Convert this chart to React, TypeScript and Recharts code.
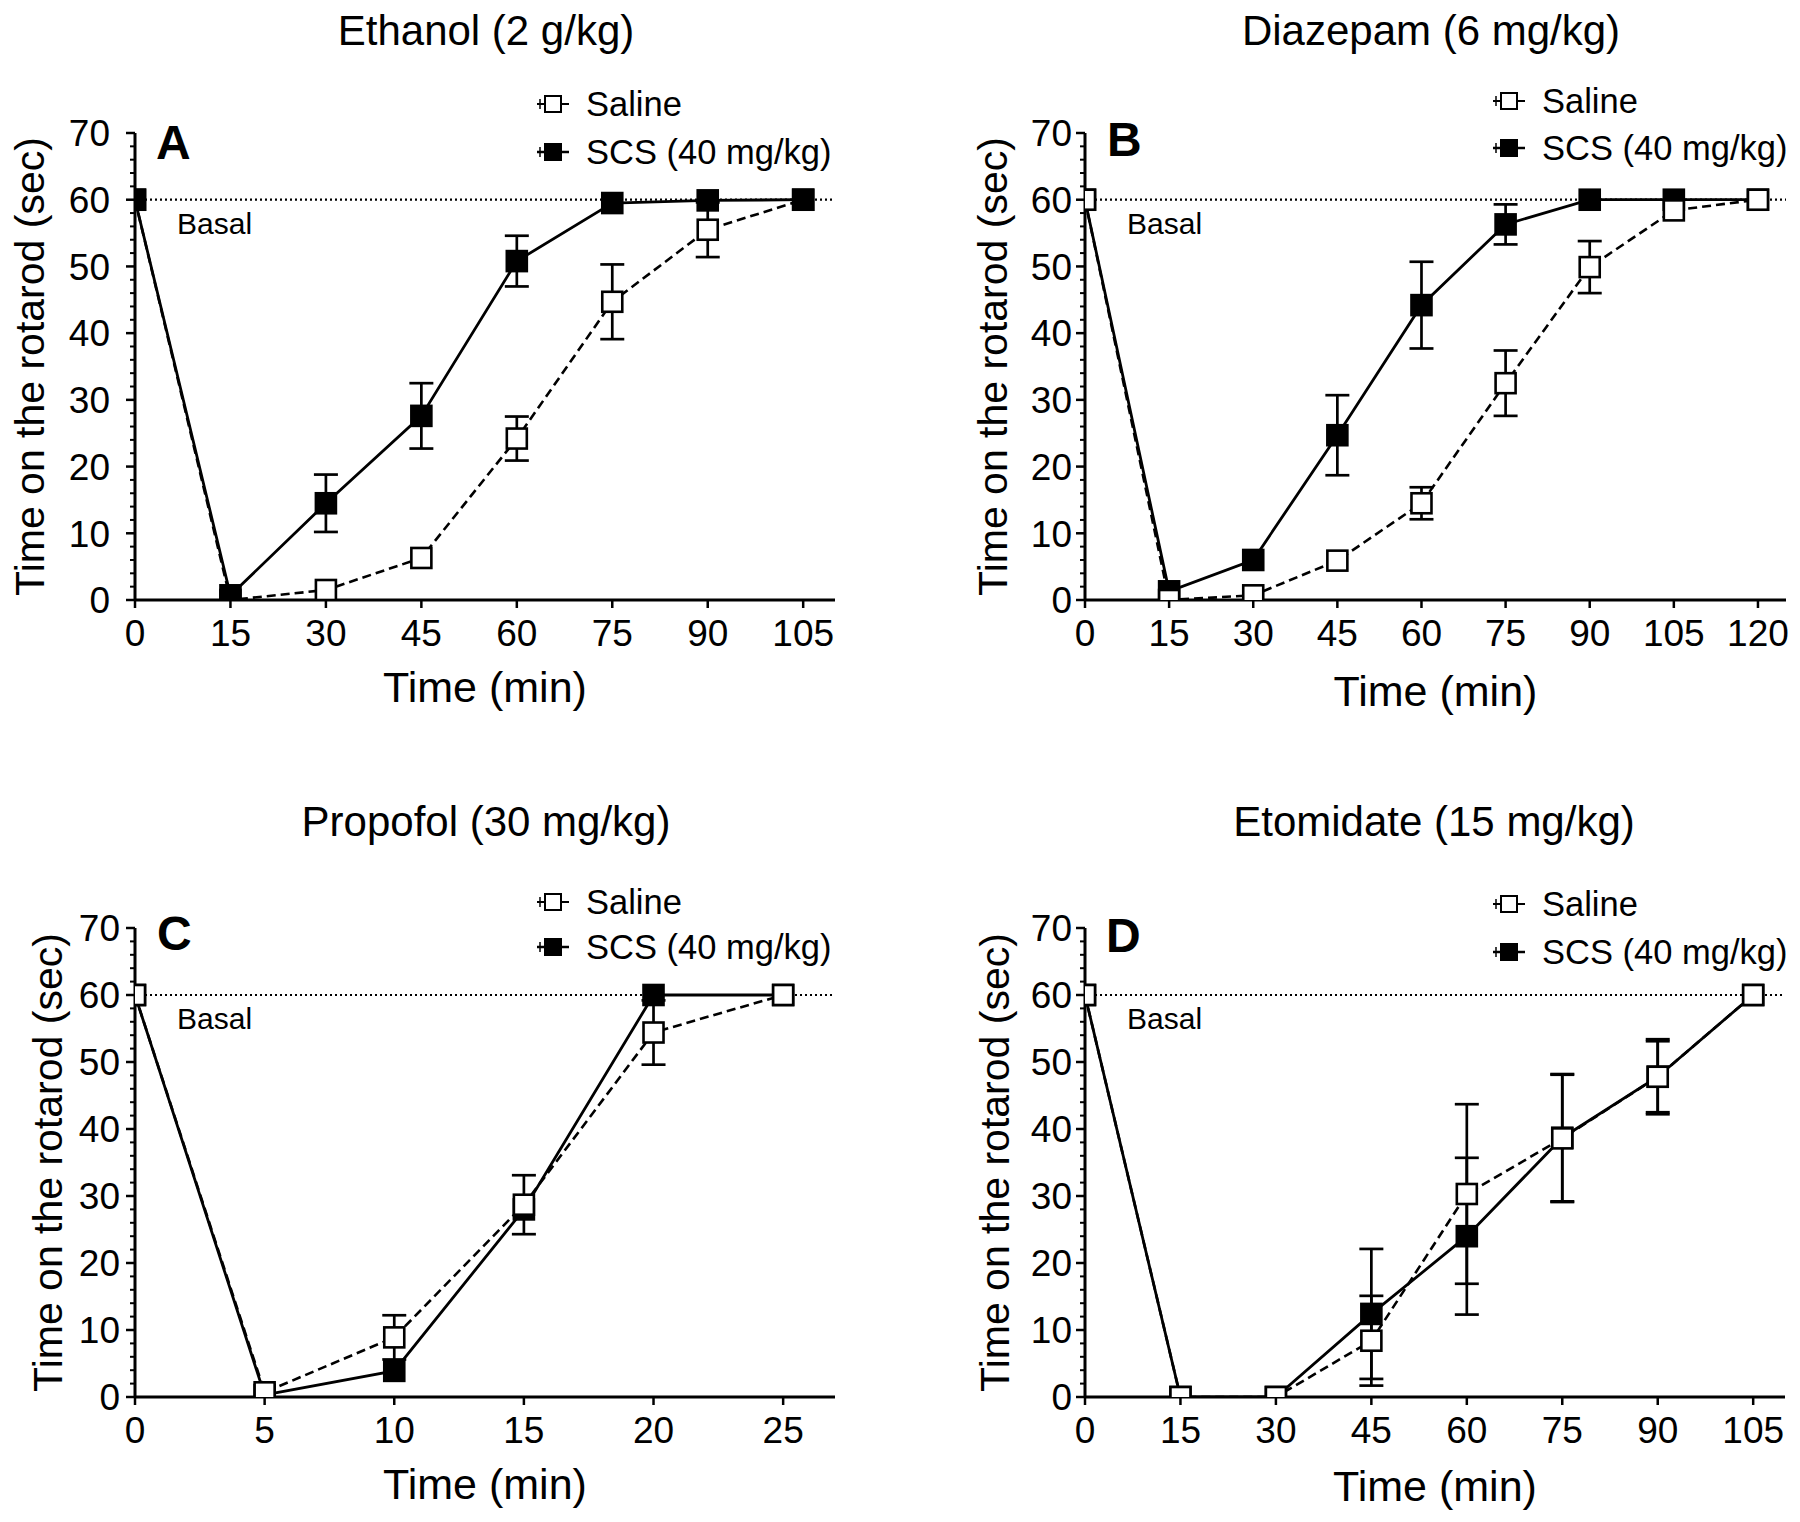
import React from "react";
import { ComposedChart, Line, XAxis, YAxis, ReferenceLine, ErrorBar } from "recharts";

const FONT = '"Liberation Sans", Arial, Helvetica, sans-serif';

// A – ethanol
const ethanolTime = [0, 15, 30, 45, 60, 75, 90, 105];
const ethanolSaline = [60, 0, 1.5, 6.3, 24.2, 44.7, 55.5, 60];
const ethanolSalineSem = [null, null, null, null, 3.3, 5.6, 4.1, null];
const ethanolScs = [60, 0.7, 14.5, 27.6, 50.8, 59.5, 59.9, 60];
const ethanolScsSem = [null, null, 4.3, 4.9, 3.8, null, null, null];

// B – diazepam
const diazepamTime = [0, 15, 30, 45, 60, 75, 90, 105, 120];
const diazepamSaline = [60, 0, 0.7, 5.9, 14.5, 32.5, 49.9, 58.4, 60];
const diazepamSalineSem = [null, null, null, null, 2.4, 4.9, 3.9, null, null];
const diazepamScs = [60, 1.3, 6.0, 24.7, 44.2, 56.3, 60, 60, 60];
const diazepamScsSem = [null, null, null, 6.0, 6.5, 3.0, null, null, null];

// C – propofol
const propofolTime = [0, 5, 10, 15, 20, 25];
const propofolSaline = [60, 0.7, 8.9, 28.7, 54.4, 60];
const propofolSalineSem = [null, null, 3.3, 4.4, 4.8, null];
const propofolScs = [60, 0.3, 3.9, 28.0, 60, 60];
const propofolScsSem = [null, null, null, null, null, null];

// D – etomidate
const etomidateTime = [0, 15, 30, 45, 60, 75, 90, 105];
const etomidateSaline = [60, 0, 0, 8.4, 30.3, 38.6, 47.8, 60];
const etomidateSalineSem = [null, null, null, 6.7, 13.4, 9.5, 5.6, null];
const etomidateScs = [60, 0, 0, 12.4, 24.0, 38.7, 47.8, 60];
const etomidateScsSem = [null, null, null, 9.7, 11.7, 9.5, 5.3, null];

const yTicks = [
  0, 2, 4, 6, 8, 10, 12, 14, 16, 18, 20, 22, 24, 26, 28, 30, 32, 34, 36, 38, 40, 42, 44, 46, 48, 50, 52,
  54, 56, 58, 60, 62, 64, 66, 68, 70,
];
const legendLabels = ["Saline", "SCS (40 mg/kg)"];
const yTitle = "Time on the rotarod (sec)";
const xTitle = "Time (min)";

const buildRows = (time: number[], saline: number[], salineSem: (number | null)[], scs: number[], scsSem: (number | null)[]) =>
  time.map((t, i) => ({ t, saline: saline[i], salineSem: salineSem[i], scs: scs[i], scsSem: scsSem[i] }));

const panels = [
  {
    key: "A",
    title: "Ethanol (2 g/kg)",
    rows: buildRows(ethanolTime, ethanolSaline, ethanolSalineSem, ethanolScs, ethanolScsSem),
    xTicks: ethanolTime,
    xMax: 110,
    ox: 0,
    oy: 0,
    margin: { top: 133, right: 65, left: 0, bottom: 51 },
    scsOnTop: true,
    labelGap: 16,
    yTitleOffset: -106,
    xTitleDrop: 102,
    titleX: 486,
    titleY: 45,
    letterX: 156,
    letterY: 159,
    legendX: 537,
    legendY: [104, 152],
  },
  {
    key: "B",
    title: "Diazepam (6 mg/kg)",
    rows: buildRows(diazepamTime, diazepamSaline, diazepamSalineSem, diazepamScs, diazepamScsSem),
    xTicks: diazepamTime,
    xMax: 125,
    ox: 900,
    oy: 0,
    margin: { top: 133, right: 14, left: 50, bottom: 51 },
    scsOnTop: false,
    labelGap: 4,
    yTitleOffset: -93,
    xTitleDrop: 106,
    titleX: 1431,
    titleY: 45,
    letterX: 1107,
    letterY: 156,
    legendX: 1493,
    legendY: [101, 148],
  },
  {
    key: "C",
    title: "Propofol (30 mg/kg)",
    rows: buildRows(propofolTime, propofolSaline, propofolSalineSem, propofolScs, propofolScsSem),
    xTicks: propofolTime,
    xMax: 27,
    ox: 0,
    oy: 761,
    margin: { top: 167, right: 65, left: 0, bottom: 15 },
    scsOnTop: false,
    labelGap: 6,
    yTitleOffset: -88,
    xTitleDrop: 102,
    titleX: 486,
    titleY: 836,
    letterX: 157,
    letterY: 950,
    legendX: 537,
    legendY: [902, 947],
  },
  {
    key: "D",
    title: "Etomidate (15 mg/kg)",
    rows: buildRows(etomidateTime, etomidateSaline, etomidateSalineSem, etomidateScs, etomidateScsSem),
    xTicks: etomidateTime,
    xMax: 110,
    ox: 900,
    oy: 761,
    margin: { top: 167, right: 15, left: 50, bottom: 15 },
    scsOnTop: false,
    labelGap: 4,
    yTitleOffset: -91,
    xTitleDrop: 104,
    titleX: 1434,
    titleY: 836,
    letterX: 1106,
    letterY: 952,
    legendX: 1493,
    legendY: [904, 952],
  },
];

const squareDot = (fill: string) => (p: any) => {
  if (p.cx == null || p.cy == null) return <g key={`${fill}-${p.index}`} />;
  return (
    <rect
      key={`${fill}-${p.index}`}
      x={p.cx - 10}
      y={p.cy - 10}
      width={20}
      height={20}
      fill={fill}
      stroke="#000"
      strokeWidth={2.6}
    />
  );
};

const makeYTick = (gap: number) => (p: any) => {
  const v = p.payload.value;
  const major = v % 10 === 0;
  return (
    <g>
      <line x1={p.x - (major ? 9 : 5)} x2={p.x} y1={p.y} y2={p.y} stroke="#000" strokeWidth={major ? 2.5 : 2} />
      {major && (
        <text x={p.x - 9 - gap} y={p.y} dy="0.36em" textAnchor="end" fontSize={37} fill="#000" fontFamily={FONT}>
          {v}
        </text>
      )}
    </g>
  );
};

function Panel({ cfg }: { cfg: (typeof panels)[number] }) {
  const salineLine = (
    <Line
      key="saline"
      type="linear"
      dataKey="saline"
      stroke="#000"
      strokeWidth={2.6}
      strokeDasharray="9 5"
      dot={squareDot("#fff")}
      activeDot={false}
      isAnimationActive={false}
    >
      <ErrorBar dataKey="salineSem" direction="y" width={12} stroke="#000" strokeWidth={2.7} />
    </Line>
  );
  const scsLine = (
    <Line
      key="scs"
      type="linear"
      dataKey="scs"
      stroke="#000"
      strokeWidth={2.8}
      dot={squareDot("#000")}
      activeDot={false}
      isAnimationActive={false}
    >
      <ErrorBar dataKey="scsSem" direction="y" width={12} stroke="#000" strokeWidth={2.7} />
    </Line>
  );

  return (
    <div style={{ position: "absolute", left: cfg.ox, top: cfg.oy }}>
      <ComposedChart width={900} height={761} data={cfg.rows} margin={cfg.margin}>
        <XAxis
          dataKey="t"
          type="number"
          domain={[0, cfg.xMax]}
          ticks={cfg.xTicks}
          interval={0}
          allowDataOverflow
          height={110}
          tickSize={8}
          tickMargin={12}
          axisLine={{ stroke: "#000", strokeWidth: 3 }}
          tickLine={{ stroke: "#000", strokeWidth: 2.5 }}
          tick={{ fontSize: 37, fill: "#000", fontFamily: FONT }}
          label={(p: any) => (
            <text
              x={p.viewBox.x + p.viewBox.width / 2}
              y={p.viewBox.y + cfg.xTitleDrop}
              textAnchor="middle"
              fontSize={43}
              fill="#000"
              fontFamily={FONT}
            >
              {xTitle}
            </text>
          )}
        />
        <YAxis
          type="number"
          domain={[0, 70]}
          ticks={yTicks}
          interval={0}
          allowDataOverflow
          width={135}
          tickSize={0}
          tickMargin={0}
          tickLine={false}
          axisLine={{ stroke: "#000", strokeWidth: 3 }}
          tick={makeYTick(cfg.labelGap)}
          label={(p: any) => {
            const cx = p.viewBox.x + p.viewBox.width + cfg.yTitleOffset;
            const cy = p.viewBox.y + p.viewBox.height / 2;
            return (
              <text
                x={cx}
                y={cy}
                dy="0.36em"
                transform={`rotate(-90 ${cx} ${cy})`}
                textAnchor="middle"
                fontSize={41}
                fill="#000"
                fontFamily={FONT}
              >
                {yTitle}
              </text>
            );
          }}
        />
        <ReferenceLine
          y={60}
          stroke="#000"
          strokeWidth={2.2}
          strokeDasharray="2 3"
          label={(p: any) => (
            <text x={p.viewBox.x + 42} y={p.viewBox.y + 34} fontSize={30} fill="#000" fontFamily={FONT}>
              Basal
            </text>
          )}
        />
        {cfg.scsOnTop ? [salineLine, scsLine] : [scsLine, salineLine]}
      </ComposedChart>
    </div>
  );
}

function Overlay() {
  return (
    <svg
      width={1800}
      height={1522}
      style={{ position: "absolute", left: 0, top: 0, pointerEvents: "none" }}
      fontFamily={FONT}
    >
      {panels.map((cfg) => (
        <g key={cfg.key}>
          <text x={cfg.titleX} y={cfg.titleY} textAnchor="middle" fontSize={42} fill="#000">
            {cfg.title}
          </text>
          <text x={cfg.letterX} y={cfg.letterY} fontSize={48} fontWeight="bold" fill="#000">
            {cfg.key}
          </text>
          {legendLabels.map((name, i) => {
            const y = cfg.legendY[i];
            const x = cfg.legendX;
            const filled = i === 1;
            return (
              <g key={name}>
                {filled ? (
                  <line x1={x} x2={x + 32} y1={y} y2={y} stroke="#000" strokeWidth={2.5} />
                ) : (
                  <>
                    <line x1={x} x2={x + 8} y1={y} y2={y} stroke="#000" strokeWidth={2} />
                    <line x1={x + 24} x2={x + 32} y1={y} y2={y} stroke="#000" strokeWidth={2} />
                  </>
                )}
                <line x1={x + 3} x2={x + 3} y1={y - 5} y2={y + 5} stroke="#000" strokeWidth={1.5} />
                <rect
                  x={x + 8}
                  y={y - 8}
                  width={16}
                  height={16}
                  fill={filled ? "#000" : "#fff"}
                  stroke="#000"
                  strokeWidth={2}
                />
                <text x={x + 49} y={y + 12} fontSize={34.5} fill="#000">
                  {name}
                </text>
              </g>
            );
          })}
        </g>
      ))}
    </svg>
  );
}

export default function App() {
  return (
    <div style={{ position: "absolute", left: 0, top: 0, width: 1800, height: 1522, background: "#fff" }}>
      {panels.map((cfg) => (
        <Panel key={cfg.key} cfg={cfg} />
      ))}
      <Overlay />
    </div>
  );
}
